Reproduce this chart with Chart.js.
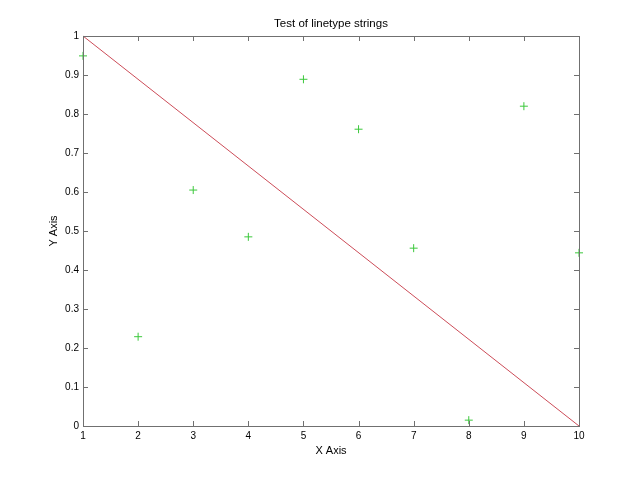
<!DOCTYPE html>
<html>
<head>
<meta charset="utf-8">
<script src="https://cdn.jsdelivr.net/npm/chart.js@4"></script>
<style>
  html, body { margin: 0; padding: 0; background: #fff; }
  #wrap { width: 640px; height: 480px; }
</style>
</head>
<body>
<div id="wrap"><canvas id="chart" width="640" height="480"></canvas></div>
<script>
// values
const xValues = [1, 2, 3, 4, 5, 6, 7, 8, 9, 10];
const markerValues = [0.949, 0.229, 0.605, 0.485, 0.889, 0.761, 0.456, 0.015, 0.820, 0.444];
const lineX = [1, 10];
const lineY = [1, 0];
const xTickLabels = ['1', '2', '3', '4', '5', '6', '7', '8', '9', '10'];
const yTickLabels = ['0', '0.1', '0.2', '0.3', '0.4', '0.5', '0.6', '0.7', '0.8', '0.9', '1'];
const chartTitle = 'Test of linetype strings';

const axisColor = '#707070';
const fontFamily = '"Liberation Sans", Arial, Helvetica, sans-serif';

// box round the plot, short inward ticks on all four sides, title centred over the plot
const boxPlugin = {
    id: 'boxTicks',
    afterDatasetsDraw(chart) {
        const { ctx, chartArea: a, scales } = chart;
        ctx.save();
        ctx.strokeStyle = axisColor;
        ctx.lineWidth = 1;
        ctx.strokeRect(a.left + 0.5, a.top + 0.5, a.right - a.left, a.bottom - a.top);
        ctx.beginPath();
        scales.x.ticks.forEach(t => {
            const px = Math.round(scales.x.getPixelForValue(t.value)) + 0.5;
            ctx.moveTo(px, a.bottom); ctx.lineTo(px, a.bottom - 5);
            ctx.moveTo(px, a.top); ctx.lineTo(px, a.top + 5);
        });
        scales.y.ticks.forEach(t => {
            const py = Math.round(scales.y.getPixelForValue(t.value)) + 0.5;
            ctx.moveTo(a.left, py); ctx.lineTo(a.left + 5, py);
            ctx.moveTo(a.right, py); ctx.lineTo(a.right - 5, py);
        });
        ctx.stroke();

        ctx.fillStyle = '#000';
        ctx.font = '11.5px ' + fontFamily;
        ctx.textAlign = 'center';
        ctx.textBaseline = 'middle';
        ctx.fillText(chartTitle, (a.left + a.right) / 2, 24);
        ctx.restore();
    }
};

new Chart(document.getElementById('chart'), {
    type: 'scatter',
    data: {
        datasets: [
            {
                label: 'line',
                data: lineX.map((x, i) => ({ x: x, y: lineY[i] })),
                showLine: true,
                borderColor: '#cc4c58',
                borderWidth: 1,
                pointRadius: 0,
                clip: false
            },
            {
                label: 'markers',
                data: xValues.map((x, i) => ({ x: x, y: markerValues[i] })),
                pointStyle: 'cross',
                pointRadius: 4,
                pointHoverRadius: 4,
                borderColor: '#3cc83c',
                backgroundColor: '#3cc83c',
                hoverBorderColor: '#3cc83c',
                borderWidth: 1,
                clip: false
            }
        ]
    },
    options: {
        responsive: false,
        animation: false,
        events: [],
        layout: { padding: { left: 0, right: 61, top: 36, bottom: 0 } },
        plugins: {
            legend: { display: false },
            tooltip: { enabled: false },
            title: { display: false }
        },
        scales: {
            x: {
                type: 'linear',
                min: 1,
                max: 10,
                afterFit(scale) { scale.height = 54; },
                grid: { display: false, drawTicks: false },
                border: { display: false },
                ticks: {
                    stepSize: 1,
                    color: '#000',
                    padding: 4,
                    maxRotation: 0,
                    font: { family: fontFamily, size: 10 },
                    callback: (v, i) => xTickLabels[i]
                },
                title: {
                    display: true,
                    text: 'X Axis',
                    color: '#000',
                    font: { family: fontFamily, size: 11 },
                    padding: { top: 0, bottom: 22 }
                }
            },
            y: {
                type: 'linear',
                min: 0,
                max: 1,
                afterFit(scale) { scale.width = 83; },
                grid: { display: false, drawTicks: false },
                border: { display: false },
                ticks: {
                    stepSize: 0.1,
                    color: '#000',
                    padding: 4,
                    font: { family: fontFamily, size: 10 },
                    callback: (v, i) => yTickLabels[i]
                },
                title: {
                    display: true,
                    text: 'Y Axis',
                    color: '#000',
                    font: { family: fontFamily, size: 11 },
                    padding: { top: 47, bottom: 0 }
                }
            }
        }
    },
    plugins: [boxPlugin]
});
</script>
</body>
</html>
